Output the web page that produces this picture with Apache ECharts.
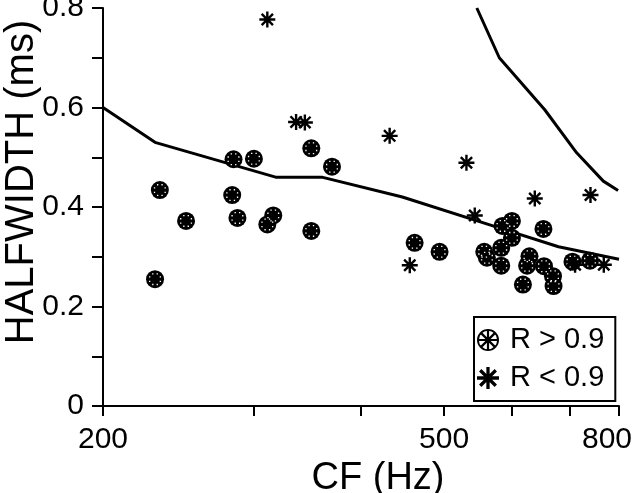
<!DOCTYPE html>
<html><head><meta charset="utf-8">
<script src="https://cdn.jsdelivr.net/npm/echarts@6/dist/echarts.min.js"></script>
<style>html,body{margin:0;padding:0;background:#fff}#c{width:640px;height:493px}</style>
</head><body><div id="c"></div>
<script>
// R > 0.9 units
const cfHigh = [233,230,250,284,300,283,287,316,311,350,370,350,462,494,557,561,583,585,600,600,583,653,629,625,618,654,670,671,706,740];
const hwHigh = [0.434,0.255,0.372,0.496,0.497,0.424,0.378,0.383,0.365,0.518,0.481,0.352,0.328,0.310,0.310,0.298,0.282,0.362,0.372,0.338,0.318,0.356,0.301,0.282,0.244,0.281,0.261,0.241,0.290,0.292];
// R < 0.9 units
const cfLow = [311,336,344,432,531,543,456,638,741,711,768];
const hwLow = [0.777,0.571,0.570,0.543,0.489,0.383,0.283,0.417,0.424,0.284,0.284];
// curves
const cfCurveLow = [200,230,318,360,447,575,680,800];
const hwCurveLow = [0.60,0.53,0.46,0.46,0.42,0.36,0.32,0.295];
const cfCurveHigh = [546,580,655,714,767,798];
const hwCurveHigh = [0.80,0.70,0.596,0.509,0.452,0.433];
// ticks
const xTickValues = [200,300,400,500,600,700,800];
const xLabelValues = [200,500,800];
const yLabelValues = [0,0.2,0.4,0.6,0.8];
const legendNames = ['R > 0.9','R < 0.9'];

const FONT = "'Liberation Sans', Arial, Helvetica, sans-serif";
const zip = (a,b) => a.map((v,i)=>[v,b[i]]);

const asteriskPath = 'path://M8.5 0H11.5V20H8.5Z M0 8.5H20V11.5H0Z M1.87 3.99L3.99 1.87L18.13 16.01L16.01 18.13Z M16.01 1.87L18.13 3.99L3.99 18.13L1.87 16.01Z';
const ringStarPath = 'path://M10 0A10 10 0 1 1 10 20A10 10 0 1 1 10 0Z M10 1.7A8.3 8.3 0 1 0 10 18.3A8.3 8.3 0 1 0 10 1.7Z M9 1.5H11V18.5H9Z M1.5 9H18.5V11H1.5Z M3.28 4.70L4.70 3.28L16.72 15.30L15.30 16.72Z M15.30 3.28L16.72 4.70L4.70 16.72L3.28 15.30Z';
function dotsPath(){
  let p = 'path://';
  for (let k=0;k<8;k++){
    const a = (22.5 + 45*k) * Math.PI/180;
    const x = 10 + 7*Math.cos(a), y = 10 + 7*Math.sin(a);
    p += 'M'+(x-0.8).toFixed(2)+' '+(y-0.8).toFixed(2)+'h1.6v1.6h-1.6Z';
  }
  return p;
}

const chart = echarts.init(document.getElementById('c'), null, {renderer:'canvas'});
chart.setOption({
  animation:false,
  backgroundColor:'#fff',
  grid:{left:103, right:21, top:8, bottom:87, containLabel:false, outerBoundsMode:'none'},
  xAxis:{
    type:'log', logBase:10, min:200, max:800,
    name:'CF (Hz)', nameLocation:'middle', nameGap:49,
    nameTextStyle:{fontFamily:FONT, fontSize:38, color:'#000', padding:[0,0,0,34]},
    axisLine:{show:true, onZero:false, lineStyle:{color:'#000', width:2}},
    axisTick:{show:true, inside:false, length:10, customValues:xTickValues, lineStyle:{color:'#000', width:2}},
    axisLabel:{show:true, customValues:xLabelValues, margin:19, fontFamily:FONT, fontSize:30, color:'#000', hideOverlap:false,
      formatter:v=>{const s=String(Math.round(v)); return Math.round(v)===800 ? '{m|'+s+'}' : s;},
      rich:{m:{fontFamily:FONT, fontSize:30, color:'#000', padding:[0,24,0,0]}}},
    splitLine:{show:false}, minorTick:{show:false}, minorSplitLine:{show:false}
  },
  yAxis:{
    type:'value', min:0, max:0.8, interval:0.1,
    name:'HALFWIDTH (ms)', nameLocation:'middle', nameGap:61, nameRotate:90, nameMoveOverlap:false,
    nameTextStyle:{fontFamily:FONT, fontSize:40, color:'#000', padding:[0,0,0,50]},
    axisLine:{show:true, onZero:false, lineStyle:{color:'#000', width:2}},
    axisTick:{show:true, inside:false, length:11, lineStyle:{color:'#000', width:2}},
    axisLabel:{show:true, margin:19, fontFamily:FONT, fontSize:30, color:'#000', hideOverlap:false,
      formatter:v=>{const r=Math.round(v*10)/10; if (!yLabelValues.some(t=>Math.abs(t-r)<1e-6)) return ''; return r===0?'0':r.toFixed(1);}},
    splitLine:{show:false}
  },
  legend:{
    show:true, orient:'vertical', left:474, top:317,
    data:[{name:legendNames[0], icon:ringStarPath},{name:legendNames[1], icon:asteriskPath}],
    itemWidth:22, itemHeight:22, itemGap:8,
    padding:[8,11,8,3],
    borderColor:'#000', borderWidth:2, backgroundColor:'#fff',
    selectedMode:false,
    textStyle:{fontFamily:FONT, fontSize:29, color:'#000', lineHeight:30, padding:[0,0,0,6]}
  },
  series:[
    {type:'line', name:'curveLow', data:zip(cfCurveLow,hwCurveLow), showSymbol:false, symbol:'none',
      lineStyle:{color:'#000', width:3}, itemStyle:{color:'#000'}, z:2},
    {type:'line', name:'curveHigh', data:zip(cfCurveHigh,hwCurveHigh), showSymbol:false, symbol:'none',
      lineStyle:{color:'#000', width:3}, itemStyle:{color:'#000'}, z:2},
    {type:'scatter', name:legendNames[0], data:zip(cfHigh,hwHigh), symbol:'circle', symbolSize:18,
      itemStyle:{color:'#000', opacity:1}, z:3},
    {type:'scatter', name:'dots', data:zip(cfHigh,hwHigh), symbol:dotsPath(), symbolSize:12,
      itemStyle:{color:'#fff', opacity:1}, z:4, silent:true},
    {type:'scatter', name:legendNames[1], data:zip(cfLow,hwLow), symbol:asteriskPath, symbolSize:16,
      itemStyle:{color:'#000', opacity:1}, z:5}
  ]
});
</script>
</body></html>
